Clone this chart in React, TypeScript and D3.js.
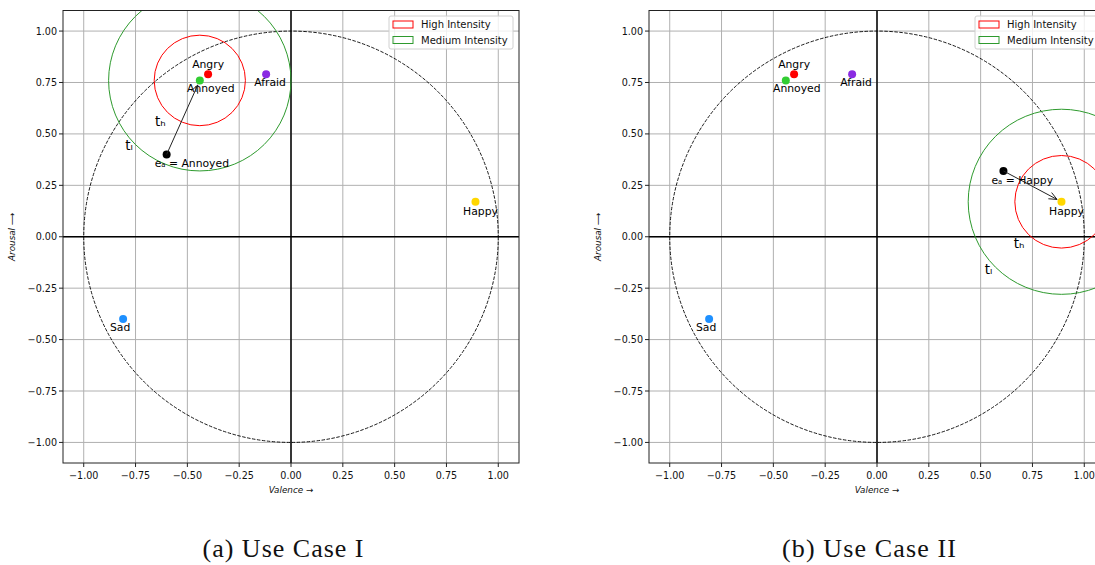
import * as d3 from "d3";

// emotion anchors on the valence / arousal plane
const EMOTIONS = ["Angry", "Annoyed", "Afraid", "Happy", "Sad"];
const VALENCE = [-0.4, -0.44, -0.12, 0.89, -0.81];
const AROUSAL = [0.79, 0.76, 0.79, 0.17, -0.4];
const EMOTION_COLORS = ["#ff0000", "#32cd32", "#8a2be2", "#ffd700", "#1e90ff"];

const TICKS = [-1, -0.75, -0.5, -0.25, 0, 0.25, 0.5, 0.75, 1];

// one entry per use case
const CAPTIONS = ["(a) Use Case I", "(b) Use Case II"];
const EA_VALENCE = [-0.6, 0.61];
const EA_AROUSAL = [0.4, 0.32];
const EA_TARGET = ["Annoyed", "Happy"];
const HIGH_RADIUS = [0.22, 0.225];
const MEDIUM_RADIUS = [0.44, 0.45];
const TH_VALENCE = [-0.656, 0.66];
const TH_AROUSAL = [0.54, -0.055];
const TL_VALENCE = [-0.8, 0.52];
const TL_AROUSAL = [0.42, -0.18];

const LEGEND = ["High Intensity", "Medium Intensity"];
const LEGEND_COLORS = ["#ff0000", "#2e9a2e"];

const W = 1095;
const H = 565;
const PANEL_LEFT = [63, 649];
const AX_W = 456;
const AX_TOP = 10.5;
const AX_BOTTOM = 463;
const SANS = "DejaVu Sans, sans-serif";

// small per-label nudges so text sits like the original
const labelNudge: Record<string, [number, number]> = {
  Angry: [0, -6],
  Annoyed: [11, 12],
  Afraid: [4, 12],
  Happy: [5, 13],
  Sad: [-3, 12],
};

const fmt = (t: number) => d3.format(".2f")(t).replace("-", "\u2212");

function Panel({ idx }: { idx: number }) {
  const left = PANEL_LEFT[idx];
  const x = d3.scaleLinear().domain([-1.1, 1.1]).range([left, left + AX_W]);
  const y = d3.scaleLinear().domain([-1.1, 1.1]).range([AX_BOTTOM, AX_TOP]);
  const kx = x(1) - x(0);
  const ky = y(0) - y(1);
  const clipId = `clip-${idx}`;

  const ti = EMOTIONS.indexOf(EA_TARGET[idx]);
  const tx = x(VALENCE[ti]);
  const ty = y(AROUSAL[ti]);
  const ex = x(EA_VALENCE[idx]);
  const ey = y(EA_AROUSAL[idx]);

  // arrow stops a little short of the target, open "->" head
  const len = Math.hypot(tx - ex, ty - ey);
  const ux = (tx - ex) / len;
  const uy = (ty - ey) / len;
  const hx = tx - ux * 5;
  const hy = ty - uy * 5;
  const headL = 8;
  const headW = 3.5;
  const bx = hx - ux * headL;
  const by = hy - uy * headL;
  const arrowHead = `M${bx - uy * headW},${by + ux * headW}L${hx},${hy}L${bx + uy * headW},${by - ux * headW}`;

  const axRight = left + AX_W;
  const legendRight = axRight - 6;
  const legendLeft = legendRight - 124;

  return (
    <g>
      <defs>
        <clipPath id={clipId}>
          <rect x={left} y={AX_TOP} width={AX_W} height={AX_BOTTOM - AX_TOP} />
        </clipPath>
      </defs>
      <rect x={left} y={AX_TOP} width={AX_W} height={AX_BOTTOM - AX_TOP} fill="#fff" />
      <g clipPath={`url(#${clipId})`}>
        {TICKS.map((t) => (
          <g key={`g${t}`} stroke="#b0b0b0" strokeWidth={1}>
            <line x1={x(t)} x2={x(t)} y1={AX_TOP} y2={AX_BOTTOM} />
            <line x1={left} x2={axRight} y1={y(t)} y2={y(t)} />
          </g>
        ))}
        <line x1={x(0)} x2={x(0)} y1={AX_TOP} y2={AX_BOTTOM} stroke="#000" strokeWidth={1.5} />
        <line x1={left} x2={axRight} y1={y(0)} y2={y(0)} stroke="#000" strokeWidth={1.5} />
        <ellipse
          cx={x(0)}
          cy={y(0)}
          rx={kx}
          ry={ky}
          fill="none"
          stroke="#000"
          strokeWidth={0.9}
          strokeDasharray="3.5,1.5"
        />
        <ellipse
          cx={tx}
          cy={ty}
          rx={kx * HIGH_RADIUS[idx]}
          ry={ky * HIGH_RADIUS[idx]}
          fill="none"
          stroke={LEGEND_COLORS[0]}
          strokeWidth={1}
        />
        <ellipse
          cx={tx}
          cy={ty}
          rx={kx * MEDIUM_RADIUS[idx]}
          ry={ky * MEDIUM_RADIUS[idx]}
          fill="none"
          stroke={LEGEND_COLORS[1]}
          strokeWidth={1}
        />
        {EMOTIONS.map((e, i) => (
          <circle key={e} cx={x(VALENCE[i])} cy={y(AROUSAL[i])} r={4} fill={EMOTION_COLORS[i]} />
        ))}
        <circle cx={ex} cy={ey} r={4} fill="#000" />
        {EMOTIONS.map((e, i) => (
          <text
            key={`l${e}`}
            x={x(VALENCE[i]) + labelNudge[e][0]}
            y={y(AROUSAL[i]) + labelNudge[e][1]}
            textAnchor="middle"
            fontFamily={SANS}
            fontSize={10.8}
            fill="#000"
          >
            {e}
          </text>
        ))}
        <line x1={ex} y1={ey} x2={hx} y2={hy} stroke="#222" strokeWidth={1} />
        <path d={arrowHead} fill="none" stroke="#222" strokeWidth={1} />
        <text x={ex - 12} y={ey + 13} fontFamily={SANS} fontSize={10.8} fill="#000">
          eₐ = {EA_TARGET[idx]}
        </text>
        <text x={x(TH_VALENCE[idx])} y={y(TH_AROUSAL[idx])} fontFamily={SANS} fontSize={13.5} fill="#000">
          tₕ
        </text>
        <text x={x(TL_VALENCE[idx])} y={y(TL_AROUSAL[idx])} fontFamily={SANS} fontSize={13.5} fill="#000">
          tₗ
        </text>
        {/* legend */}
        <rect
          x={legendLeft}
          y={AX_TOP + 5.5}
          width={124}
          height={33}
          rx={2}
          fill="#fff"
          fillOpacity={0.8}
          stroke="#d0d0d0"
          strokeWidth={1}
        />
        {LEGEND.map((l, i) => (
          <g key={l}>
            <rect
              x={legendLeft + 4}
              y={AX_TOP + 10.5 + i * 15.5}
              width={20}
              height={7}
              fill="none"
              stroke={LEGEND_COLORS[i]}
              strokeWidth={1}
            />
            <text
              x={legendLeft + 32}
              y={AX_TOP + 17.5 + i * 15.5}
              fontFamily={SANS}
              fontSize={10}
              fill="#111"
            >
              {l}
            </text>
          </g>
        ))}
      </g>
      <rect
        x={left}
        y={AX_TOP}
        width={AX_W}
        height={AX_BOTTOM - AX_TOP}
        fill="none"
        stroke="#222"
        strokeWidth={1}
      />
      {TICKS.map((t) => (
        <g key={`t${t}`} fontFamily={SANS} fontSize={9.6} fill="#111">
          <line x1={x(t)} x2={x(t)} y1={AX_BOTTOM} y2={AX_BOTTOM + 4} stroke="#222" />
          <text x={x(t)} y={AX_BOTTOM + 16} textAnchor="middle">
            {fmt(t)}
          </text>
          <line x1={left - 4} x2={left} y1={y(t)} y2={y(t)} stroke="#222" />
          <text x={left - 6} y={y(t) + 3.5} textAnchor="end">
            {fmt(t)}
          </text>
        </g>
      ))}
      <text
        x={x(0)}
        y={AX_BOTTOM + 30}
        textAnchor="middle"
        fontFamily={SANS}
        fontStyle="italic"
        fontSize={8.8}
        fill="#111"
      >
        Valence →
      </text>
      <text
        transform={`translate(${left - 48},${y(0)}) rotate(-90)`}
        textAnchor="middle"
        fontFamily={SANS}
        fontStyle="italic"
        fontSize={8.8}
        fill="#111"
      >
        Arousal ⟶
      </text>
      <text
        x={left + 220}
        y={557}
        textAnchor="middle"
        fontFamily="Liberation Serif, serif"
        fontSize={26}
        textLength={idx === 0 ? 161 : 174}
        fill="#111"
      >
        {CAPTIONS[idx]}
      </text>
    </g>
  );
}

export default function App() {
  return (
    <svg
      width={W}
      height={H}
      viewBox={`0 0 ${W} ${H}`}
      style={{ position: "absolute", left: 0, top: 0, background: "#fff" }}
    >
      <rect width={W} height={H} fill="#fff" />
      {CAPTIONS.map((c, i) => (
        <Panel key={c} idx={i} />
      ))}
    </svg>
  );
}
